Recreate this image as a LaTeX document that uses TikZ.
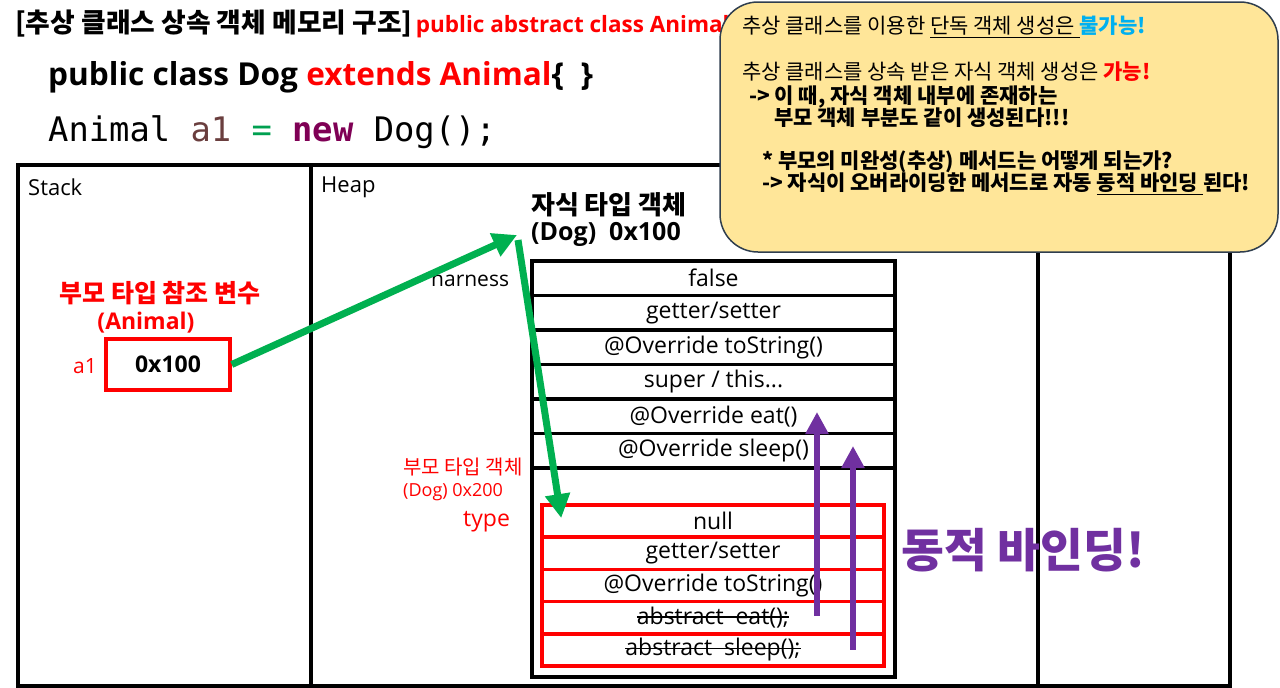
\documentclass[tikz,border=0pt]{standalone}
\usepackage{fontspec}
\setmainfont{Open Sans}
\newfontfamily\kr{Noto Sans CJK KR}
\newfontfamily\codefont{DejaVu Sans Mono}
\usetikzlibrary{positioning,arrows.meta}
\definecolor{redtxt}{HTML}{FF0000}
\definecolor{greenarrow}{HTML}{00B050}
\definecolor{purplebind}{HTML}{7030A0}
\definecolor{notefill}{HTML}{FFE699}
\definecolor{noteline}{HTML}{2F3E4E}
\definecolor{skyblue}{HTML}{00B0F0}
\definecolor{varbrown}{HTML}{6A3E3E}
\definecolor{kwpurple}{HTML}{7F0055}
\definecolor{opgreen}{HTML}{00A050}
\newcommand{\fsz}[1]{\fontsize{#1}{#1}\selectfont}
\newsavebox{\crossbox}
\newcommand{\crossout}[1]{\sbox{\crossbox}{#1}\rlap{\rule[0.3em]{\wd\crossbox}{1.3pt}}\usebox{\crossbox}}
\tikzset{
  txt/.style={inner sep=0pt, anchor=west},
  column/.style={draw, line width=3.5pt, minimum height=521pt},
  dogrow/.style={draw, line width=3.5pt, minimum width=363pt, minimum height=34.5pt, inner sep=0pt, font=\fsz{23}},
  animalrow/.style={draw=redtxt, line width=3.5pt, minimum width=342pt, minimum height=32.2pt, inner sep=0pt, font=\fsz{23}},
  refarrow/.style={greenarrow, line width=7pt, -{Triangle[length=24pt,width=24pt]}},
  bindarrow/.style={purplebind, line width=6pt, -{Triangle[length=22pt,width=22pt]}},
  notetxt/.style={txt, font=\kr\fsz{21}}
}
\begin{document}
\begin{tikzpicture}[x=1pt, y=-1pt]
            \useasboundingbox (0,0) rectangle (1280,688);
            % memory columns
            \node[column, minimum width=293pt] (stack) at (164.5,425.5) {};
            \node[column, minimum width=727pt] (heap) at (674.5,425.5) {};
            \node[column, minimum width=192pt] (rest) at (1134,425.5) {};
            \node[txt, font=\fsz{22}] (stacklbl) at (28,187) {Stack};
            \node[txt, font=\fsz{22}] (heaplbl) at (321,187) {Heap};
            % stack variable
            \node[inner sep=0pt, font=\kr\bfseries\fsz{25}, text=redtxt] (reflbl) at (160,293) {부모 타입 참조 변수};
            \node[inner sep=0pt, font=\bfseries\fsz{23}, text=redtxt] (animallbl) at (146,323) {(Animal)};
            \node[draw=redtxt, line width=3.5pt, minimum width=124pt, minimum height=51pt, font=\bfseries\fsz{23}] (a1box) at (168,364.5) {0x100};
            \node[txt, font=\fsz{21}, text=redtxt] (a1lbl) at (73,366) {a1};
            % child object
            \node[txt, font=\kr\bfseries\fsz{26}] (childlbl) at (531,205) {자식 타입 객체};
            \node[txt, font=\bfseries\fsz{25}] (dogaddr) at (531,234) {(Dog)\ \ 0x100};
            \node[draw, line width=4pt, minimum width=363pt, minimum height=416pt] (dogobj) at (713.5,469) {};
            \node[dogrow] (dfalse) at (713.5,278.25) {false};
            \node[dogrow] (dget) at (713.5,312.75) {getter/setter};
            \node[dogrow] (dtostr) at (713.5,347.25) {@Override toString()};
            \node[dogrow] (dsuper) at (713.5,381.75) {super / this...};
            \node[dogrow] (deat) at (713.5,416.25) {@Override eat()};
            \node[dogrow] (dsleep) at (713.5,450.75) {@Override sleep()};
            \node[txt, font=\fsz{21}] (harness) at (431,279) {harness};
            % parent part
            \node[txt, font=\kr\fsz{20}, text=redtxt] (parentlbl) at (403,467) {부모 타입 객체};
            \node[txt, font=\fsz{18}, text=redtxt] (parentaddr) at (403,492) {(Dog) 0x200};
            \node[txt, font=\fsz{23}, text=redtxt] (typelbl) at (463,522) {type};
            \node[animalrow] (anull) at (713,521.1) {null};
            \node[animalrow] (aget) at (713,553.3) {getter/setter};
            \node[animalrow] (atostr) at (713,585.5) {@Override toString()};
            \node[animalrow] (aeat) at (713,617.7) {\crossout{abstract\ \ eat();}};
            \node[animalrow] (asleep) at (713,649.9) {\crossout{abstract\ \ sleep();}};
            % arrows
            \draw[refarrow] (a1box.east) -- ([shift={(-14,1)}]dogaddr.west);
            \draw[refarrow] ([shift={(-13,6)}]dogaddr.west) -- ([shift={(21,-3)}]anull.west);
            \draw[bindarrow] ([shift={(104,-2)}]aeat.center) -- ([shift={(103.5,-4.25)}]deat.center);
            \draw[bindarrow] ([shift={(140,0)}]asleep.center) -- ([shift={(139.5,-4.75)}]dsleep.center);
            \node[inner sep=0pt, font=\kr\bfseries\fsz{46.5}, text=purplebind] (bindlbl) at (1023,550) {동적 바인딩!};
            % code
            \node[txt, font=\kr\bfseries\fsz{26.8}] (title) at (15,24) {[추상 클래스 상속 객체 메모리 구조]};
            \node[inner sep=0pt, anchor=base west, font=\bfseries\fsz{22.5}, text=redtxt] (abstitle) at ([xshift=3pt]title.base east) {public abstract class Animal};
            \node[txt, font=\bfseries\fsz{31.6}] (dogdecl) at (48,77) {public class Dog \textcolor{redtxt}{extends Animal}\{\ \ \}};
            \node[txt, font=\codefont\fsz{33.8}] (codeline) at (48,132) {Animal \textcolor{varbrown}{a1} \textcolor{opgreen}{=} \textcolor{kwpurple}{\bfseries new} Dog();};
            % note
            \node[draw=noteline, fill=notefill, line width=1.5pt, rounded corners=38pt, minimum width=558pt, minimum height=250pt] (note) at (999,127) {};
            \node[notetxt] (note1) at (742,27) {추상 클래스를 이용한 \underline{단독 객체 생성은\ }{\bfseries\color{skyblue}불가능!}};
            \node[notetxt] (note2) at (742,72) {추상 클래스를 상속 받은 자식 객체 생성은 {\bfseries\color{redtxt}가능!}};
            \node[notetxt, font=\kr\bfseries\fsz{21}] (note3) at (749,97) {-> 이 때, 자식 객체 내부에 존재하는};
            \node[notetxt, font=\kr\bfseries\fsz{21}] (note4) at (774,118) {부모 객체 부분도 같이 생성된다!!!};
            \node[notetxt, font=\kr\bfseries\fsz{21}] (note5) at (762,162) {* 부모의 미완성(추상) 메서드는 어떻게 되는가?};
            \node[notetxt, font=\kr\bfseries\fsz{21}] (note6) at (762,184) {-> 자식이 오버라이딩한 메서드로 자동 \underline{동적 바인딩\ }된다!};
\end{tikzpicture}
\end{document}
